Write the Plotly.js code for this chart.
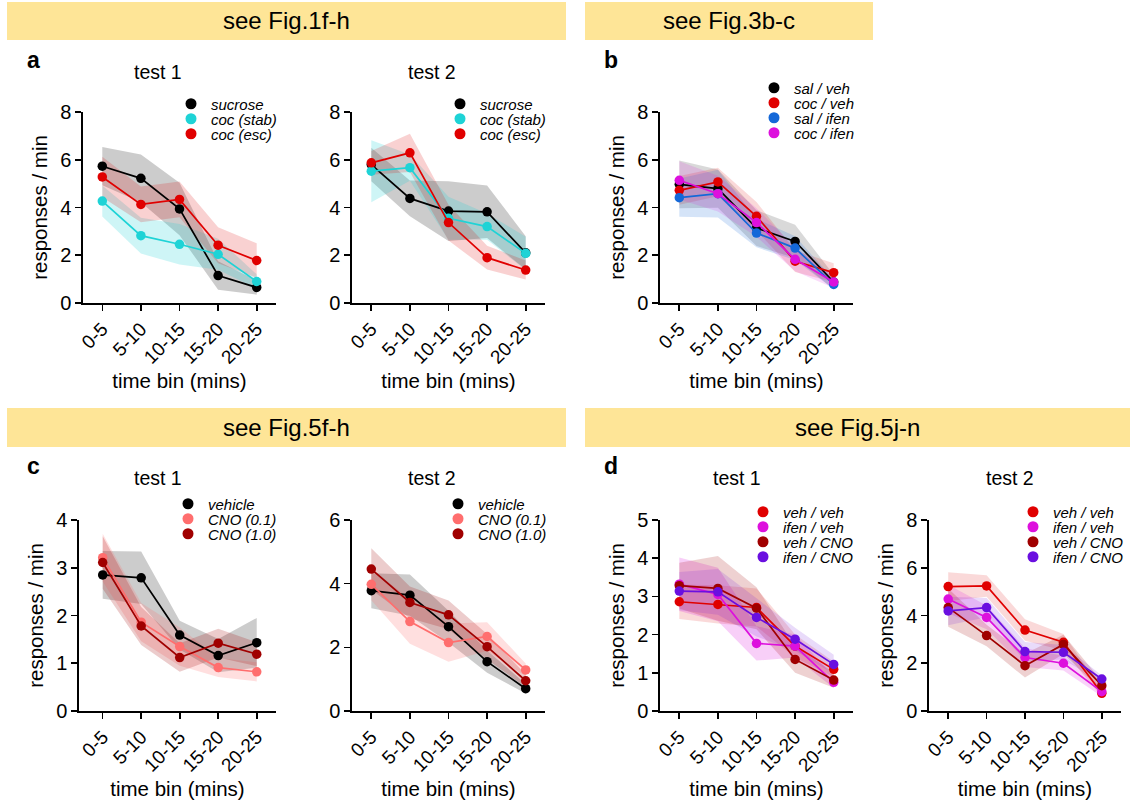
<!DOCTYPE html>
<html>
<head>
<meta charset="utf-8">
<script src="https://cdn.plot.ly/plotly-3.0.1.min.js"></script>
<style>html,body{margin:0;padding:0;background:#fff;}#chart{width:1133px;height:805px;}</style>
</head>
<body>
<div id="chart"></div>
<script>
// ---------- data ----------
const cats = ["0-5", "5-10", "10-15", "15-20", "20-25"];

// panel a, test 1
const a1_sucrose = [5.73, 5.22, 3.94, 1.15, 0.65];
const a1_sucrose_sem = [0.8, 1.0, 1.1, 0.6, 0.3];
const a1_stab = [4.27, 2.82, 2.46, 2.04, 0.90];
const a1_stab_sem = [0.65, 0.75, 0.85, 0.65, 0.3];
const a1_esc = [5.28, 4.13, 4.34, 2.42, 1.78];
const a1_esc_sem = [0.85, 0.75, 0.75, 0.75, 0.72];
// panel a, test 2
const a2_sucrose = [5.8, 4.38, 3.85, 3.82, 2.1];
const a2_sucrose_sem = [0.7, 0.75, 1.25, 1.1, 0.7];
const a2_stab = [5.52, 5.67, 3.55, 3.2, 2.08];
const a2_stab_sem = [1.3, 0.55, 0.9, 0.55, 0.7];
const a2_esc = [5.87, 6.29, 3.37, 1.9, 1.38];
const a2_esc_sem = [0.5, 0.8, 0.75, 0.5, 0.4];
// panel b
const b_salveh = [4.97, 4.79, 3.14, 2.58, 0.88];
const b_salveh_sem = [1.0, 0.8, 0.75, 0.7, 0.3];
const b_cocveh = [4.72, 5.07, 3.63, 1.75, 1.27];
const b_cocveh_sem = [0.6, 0.6, 0.6, 0.45, 0.4];
const b_salifen = [4.41, 4.58, 2.93, 2.30, 0.78];
const b_salifen_sem = [0.8, 1.0, 0.6, 0.5, 0.2];
const b_cocifen = [5.14, 4.58, 3.37, 1.83, 0.88];
const b_cocifen_sem = [0.8, 0.75, 0.6, 0.5, 0.25];
// panel c, test 1
const c1_vehicle = [2.85, 2.79, 1.59, 1.16, 1.43];
const c1_vehicle_sem = [0.5, 0.55, 0.3, 0.35, 0.52];
const c1_cno01 = [3.21, 1.86, 1.35, 0.91, 0.82];
const c1_cno01_sem = [0.5, 0.4, 0.4, 0.2, 0.2];
const c1_cno10 = [3.11, 1.78, 1.12, 1.42, 1.19];
const c1_cno10_sem = [0.55, 0.4, 0.3, 0.3, 0.25];
// panel c, test 2
const c2_vehicle = [3.78, 3.64, 2.65, 1.55, 0.70];
const c2_vehicle_sem = [0.55, 0.65, 0.5, 0.35, 0.15];
const c2_cno01 = [3.98, 2.81, 2.15, 2.34, 1.29];
const c2_cno01_sem = [0.5, 0.7, 0.6, 0.45, 0.2];
const c2_cno10 = [4.46, 3.41, 3.02, 2.02, 0.95];
const c2_cno10_sem = [0.65, 0.5, 0.45, 0.4, 0.2];
// panel d, test 1
const d1_vehveh = [2.86, 2.79, 2.71, 1.70, 1.09];
const d1_vehveh_sem = [0.45, 0.5, 0.5, 0.3, 0.2];
const d1_ifenveh = [3.32, 3.05, 1.77, 1.70, 0.75];
const d1_ifenveh_sem = [0.7, 0.7, 0.45, 0.3, 0.15];
const d1_vehcno = [3.28, 3.21, 2.69, 1.35, 0.81];
const d1_vehcno_sem = [0.6, 0.85, 0.55, 0.35, 0.2];
const d1_ifencno = [3.14, 3.12, 2.45, 1.88, 1.22];
const d1_ifencno_sem = [0.5, 0.6, 0.5, 0.3, 0.25];
// panel d, test 2
const d2_vehveh = [5.21, 5.24, 3.39, 2.88, 0.74];
const d2_vehveh_sem = [0.6, 0.45, 0.45, 0.35, 0.15];
const d2_ifenveh = [4.69, 3.92, 2.24, 2.0, 0.81];
const d2_ifenveh_sem = [0.6, 0.5, 0.4, 0.3, 0.2];
const d2_vehcno = [4.33, 3.16, 1.90, 2.79, 1.06];
const d2_vehcno_sem = [0.8, 0.45, 0.5, 0.4, 0.2];
const d2_ifencno = [4.19, 4.33, 2.49, 2.46, 1.34];
const d2_ifencno_sem = [0.6, 0.4, 0.4, 0.3, 0.15];

// ---------- styling ----------
const FONT = "Liberation Sans, Arial, Helvetica, sans-serif";
const BLACK = "#000000", CYAN = "#1ED3D6", RED = "#E00000", BLUE = "#1468D8",
      MAGENTA = "#DD10DD", PINK = "#FF6E6E", DARKRED = "#A00000", PURPLE = "#6A0FE0";
function rgba(hex, a) {
  const n = parseInt(hex.slice(1), 16);
  return `rgba(${(n >> 16) & 255},${(n >> 8) & 255},${n & 255},${a})`;
}

const W = 1133, H = 805;
const px = v => v / W;
const py = v => 1 - v / H;

const bandTraces = [], lineTraces = [], legendTraces = [];
const legends = {};
let legendCount = 0;

// legend rows: one small legend per entry so the rows sit tight like the original
function legendAt(markerX, rowY) {
  return {
    x: px(markerX - 25), y: py(rowY), xanchor: "left", yanchor: "middle",
    bgcolor: "rgba(0,0,0,0)", borderwidth: 0, traceorder: "normal", itemclick: false,
    font: { family: FONT, size: 15, color: "#000", style: "italic" }
  };
}

function series(ax, name, mean, sem, color, alpha, markerX, rowY) {
  const xa = ax === 1 ? "x" : "x" + ax, ya = ax === 1 ? "y" : "y" + ax;
  const upper = mean.map((m, i) => m + sem[i]);
  const lower = mean.map((m, i) => Math.max(0, m - sem[i]));
  bandTraces.push({ x: cats, y: upper, xaxis: xa, yaxis: ya, mode: "lines", line: { width: 0, color: color },
    showlegend: false, hoverinfo: "skip" });
  bandTraces.push({ x: cats, y: lower, xaxis: xa, yaxis: ya, mode: "lines", line: { width: 0, color: color },
    fill: "tonexty", fillcolor: rgba(color, alpha), showlegend: false, hoverinfo: "skip" });
  lineTraces.push({ x: cats, y: mean, xaxis: xa, yaxis: ya, mode: "lines+markers", name: name,
    line: { color: color, width: 1.7 }, marker: { color: color, size: 9.5 }, showlegend: false });
  legendCount += 1;
  const lid = legendCount === 1 ? "legend" : "legend" + legendCount;
  legends[lid] = legendAt(markerX, rowY);
  legendTraces.push({ x: [null], y: [null], xaxis: xa, yaxis: ya, mode: "markers", name: name,
    marker: { color: color, size: 11 }, legend: lid, showlegend: true, hoverinfo: "skip" });
}

series(1, "sucrose", a1_sucrose, a1_sucrose_sem, BLACK, 0.2, 196, 104);
series(1, "coc (stab)", a1_stab, a1_stab_sem, CYAN, 0.22, 196, 119);
series(1, "coc (esc)", a1_esc, a1_esc_sem, RED, 0.18, 196, 134);

series(2, "sucrose", a2_sucrose, a2_sucrose_sem, BLACK, 0.2, 465, 104);
series(2, "coc (stab)", a2_stab, a2_stab_sem, CYAN, 0.22, 465, 119);
series(2, "coc (esc)", a2_esc, a2_esc_sem, RED, 0.18, 465, 134);

series(3, "sal / veh", b_salveh, b_salveh_sem, BLACK, 0.15, 779, 88);
series(3, "coc / veh", b_cocveh, b_cocveh_sem, RED, 0.15, 779, 103);
series(3, "sal / ifen", b_salifen, b_salifen_sem, BLUE, 0.18, 779, 118);
series(3, "coc / ifen", b_cocifen, b_cocifen_sem, MAGENTA, 0.15, 779, 133);

series(4, "vehicle", c1_vehicle, c1_vehicle_sem, BLACK, 0.2, 193, 504);
series(4, "CNO (0.1)", c1_cno01, c1_cno01_sem, PINK, 0.22, 193, 519);
series(4, "CNO (1.0)", c1_cno10, c1_cno10_sem, DARKRED, 0.2, 193, 534);

series(5, "vehicle", c2_vehicle, c2_vehicle_sem, BLACK, 0.2, 463, 504);
series(5, "CNO (0.1)", c2_cno01, c2_cno01_sem, PINK, 0.22, 463, 519);
series(5, "CNO (1.0)", c2_cno10, c2_cno10_sem, DARKRED, 0.2, 463, 534);

series(6, "veh / veh", d1_vehveh, d1_vehveh_sem, RED, 0.15, 768, 512);
series(6, "ifen / veh", d1_ifenveh, d1_ifenveh_sem, MAGENTA, 0.2, 768, 527);
series(6, "veh / CNO", d1_vehcno, d1_vehcno_sem, DARKRED, 0.18, 768, 542);
series(6, "ifen / CNO", d1_ifencno, d1_ifencno_sem, PURPLE, 0.15, 768, 557);

series(7, "veh / veh", d2_vehveh, d2_vehveh_sem, RED, 0.15, 1038, 512);
series(7, "ifen / veh", d2_ifenveh, d2_ifenveh_sem, MAGENTA, 0.18, 1038, 527);
series(7, "veh / CNO", d2_vehcno, d2_vehcno_sem, DARKRED, 0.18, 1038, 542);
series(7, "ifen / CNO", d2_ifencno, d2_ifencno_sem, PURPLE, 0.15, 1038, 557);

const data = bandTraces.concat(lineTraces).concat(legendTraces);

// ---------- layout ----------
const topY = [py(303), py(112)];
const botY = [py(711), py(520)];
function xAxis(left, right, anchor, rangeStart) {
  return {
    domain: [px(left), px(right)], anchor: anchor, type: "category", range: [rangeStart, 4.5],
    showline: true, linecolor: "#000", linewidth: 1.6, ticks: "outside", ticklen: 6, tickwidth: 1.6,
    tickcolor: "#000", tickangle: -45, tickfont: { family: FONT, size: 19, color: "#000" },
    showgrid: false, zeroline: false, fixedrange: true,
    title: { text: "time bin (mins)", font: { family: FONT, size: 20.5, color: "#000" }, standoff: 7 }
  };
}
function yAxis(dom, anchor, max, dtick, showTitle) {
  return {
    domain: dom, anchor: anchor, range: [0, max], dtick: dtick, tick0: 0,
    showline: true, linecolor: "#000", linewidth: 1.6, ticks: "outside", ticklen: 6, tickwidth: 1.6,
    tickcolor: "#000", tickfont: { family: FONT, size: 20, color: "#000" },
    showgrid: false, zeroline: false, fixedrange: true,
    title: { text: showTitle ? "responses / min" : "", font: { family: FONT, size: 20.5, color: "#000" }, standoff: 7 }
  };
}

const BAND = "#FEE597";
const shapes = [
  [7, 2, 566, 40], [585, 2, 873, 40], [7, 408, 566, 447], [585, 408, 1130, 447]
].map(r => ({ type: "rect", xref: "paper", yref: "paper", x0: px(r[0]), x1: px(r[2]),
  y0: py(r[3]), y1: py(r[1]), fillcolor: BAND, line: { width: 0 }, layer: "below" }));

function ann(text, x, y, size, bold) {
  return { text: bold ? "<b>" + text + "</b>" : text, x: px(x), y: py(y), xref: "paper", yref: "paper",
    showarrow: false, xanchor: "center", yanchor: "middle", font: { family: FONT, size: size, color: "#000" } };
}
const annotations = [
  ann("see Fig.1f-h", 286, 21, 24), ann("see Fig.3b-c", 729, 21, 24),
  ann("see Fig.5f-h", 286, 428, 24), ann("see Fig.5j-n", 857, 428, 24),
  ann("a", 33, 60, 23, true), ann("b", 611, 60, 23, true),
  ann("c", 33, 466, 23, true), ann("d", 611, 466, 23, true),
  ann("test 1", 158, 72, 19.5), ann("test 2", 432, 72, 19.5),
  ann("test 1", 158, 478, 19.5), ann("test 2", 432, 478, 19.5),
  ann("test 1", 737, 478, 19.5), ann("test 2", 1010, 478, 19.5)
];

const layout = Object.assign({
  width: W, height: H, margin: { l: 0, r: 0, t: 0, b: 0 },
  paper_bgcolor: "#fff", plot_bgcolor: "rgba(0,0,0,0)",
  font: { family: FONT, color: "#000" }, showlegend: true,
  shapes: shapes, annotations: annotations,
  xaxis: xAxis(83, 276, "y", -0.5), yaxis: yAxis(topY, "x", 8, 2, true),
  xaxis2: xAxis(352, 545, "y2", -0.5), yaxis2: yAxis(topY, "x2", 8, 2, false),
  xaxis3: xAxis(660, 853, "y3", -0.5), yaxis3: yAxis(topY, "x3", 8, 2, true),
  xaxis4: xAxis(79, 276, "y4", -0.615), yaxis4: yAxis(botY, "x4", 4, 1, true),
  xaxis5: xAxis(352, 545, "y5", -0.5), yaxis5: yAxis(botY, "x5", 6, 2, false),
  xaxis6: xAxis(660, 853, "y6", -0.5), yaxis6: yAxis(botY, "x6", 5, 1, true),
  xaxis7: xAxis(929, 1121, "y7", -0.5), yaxis7: yAxis(botY, "x7", 8, 2, true)
}, legends);

Plotly.newPlot("chart", data, layout, { staticPlot: true, displayModeBar: false });
</script>
</body>
</html>
